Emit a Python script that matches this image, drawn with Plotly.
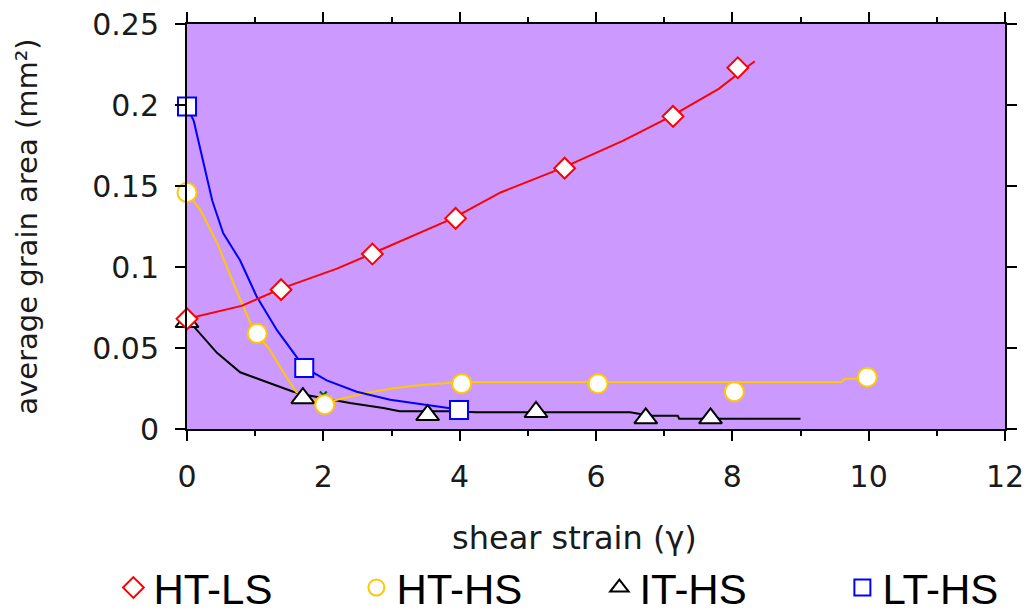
import plotly.graph_objects as go

# ---- measured grain areas (markers) ----
htls_x = [0, 1.38, 2.72, 3.94, 5.54, 7.13, 8.08]
htls_y = [0.068, 0.086, 0.108, 0.130, 0.161, 0.193, 0.223]

hths_x = [0, 1.03, 2.02, 4.03, 6.03, 8.03, 9.98]
hths_y = [0.146, 0.059, 0.015, 0.028, 0.028, 0.023, 0.032]

iths_x = [0, 1.70, 3.53, 5.12, 6.73, 7.68]
iths_y = [0.066, 0.019, 0.0086, 0.0105, 0.0066, 0.0066]

lths_x = [0, 1.72, 3.99]
lths_y = [0.199, 0.0377, 0.0117]

# small cross markers sitting under the other symbols
cross_x = [0, 2.0, 4.0]
cross_y = [0.068, 0.021, 0.012]

# ---- trend curves ----
htls_fit_x = [0, 0.8, 1.4, 2.2, 2.7, 3.4, 3.9, 4.6, 5.5, 6.4, 7.1, 7.8, 8.1, 8.2, 8.33]
htls_fit_y = [0.068, 0.076, 0.087, 0.099, 0.108, 0.121, 0.130, 0.146, 0.161, 0.178,
              0.193, 0.210, 0.220, 0.223, 0.227]

hths_fit_x = [0, 0.2, 0.45, 0.75, 1.0, 1.2, 1.4, 1.6, 1.8, 2.0, 2.2, 2.6, 3.0, 3.4,
              4.0, 6.0, 8.0, 9.6, 9.65, 10.0]
hths_fit_y = [0.146, 0.135, 0.114, 0.083, 0.059, 0.050, 0.036, 0.023, 0.018, 0.016,
              0.018, 0.022, 0.025, 0.027, 0.029, 0.029, 0.029, 0.029, 0.031, 0.031]

iths_fit_x = [0, 0.19, 0.44, 0.78, 1.17, 1.56, 1.75, 2.0, 2.39, 2.88, 3.12, 3.86,
              4.25, 6.5, 6.8, 7.2, 7.22, 9.0]
iths_fit_y = [0.068, 0.059, 0.047, 0.035, 0.029, 0.023, 0.021, 0.019, 0.016, 0.013,
              0.011, 0.011, 0.0103, 0.0103, 0.0082, 0.0082, 0.0064, 0.0064]

lths_fit_x = [0, 0.1, 0.37, 0.53, 0.78, 1.02, 1.32, 1.56, 1.72, 2.05, 2.49, 2.98, 3.61, 3.99]
lths_fit_y = [0.199, 0.19, 0.141, 0.121, 0.104, 0.082, 0.061, 0.047, 0.038, 0.030,
              0.023, 0.018, 0.014, 0.012]

x_ticks = [0, 2, 4, 6, 8, 10, 12]
x_tick_text = ["0", "2", "4", "6", "8", "10", "12"]
y_ticks = [0, 0.05, 0.1, 0.15, 0.2, 0.25]
y_tick_text = ["0", "0.05", "0.1", "0.15", "0.2", "0.25"]

RED = "#ff0000"
YELLOW = "#ffc800"
BLUE = "#0000ff"
BLACK = "#000000"
TICK_FONT = "DejaVu Sans, Verdana, sans-serif"

fig = go.Figure()

# curves first so the symbols sit on top
for fx, fy, col in [(iths_fit_x, iths_fit_y, BLACK),
                    (hths_fit_x, hths_fit_y, YELLOW),
                    (lths_fit_x, lths_fit_y, BLUE),
                    (htls_fit_x, htls_fit_y, RED)]:
    fig.add_trace(go.Scatter(x=fx, y=fy, mode="lines", showlegend=False,
                             hoverinfo="skip", cliponaxis=False,
                             line=dict(color=col, width=2)))

fig.add_trace(go.Scatter(x=iths_x, y=iths_y, mode="markers", name="IT-HS",
                         cliponaxis=False,
                         marker=dict(symbol="triangle-up", size=20, color="white",
                                     line=dict(color=BLACK, width=2))))
fig.add_trace(go.Scatter(x=cross_x, y=cross_y, mode="markers", showlegend=False,
                         cliponaxis=False,
                         marker=dict(symbol="x-thin", size=7,
                                     line=dict(color="#006400", width=2))))
fig.add_trace(go.Scatter(x=hths_x, y=hths_y, mode="markers", name="HT-HS",
                         cliponaxis=False,
                         marker=dict(symbol="circle", size=19, color="white",
                                     line=dict(color=YELLOW, width=2))))
fig.add_trace(go.Scatter(x=lths_x, y=lths_y, mode="markers", name="LT-HS",
                         cliponaxis=False,
                         marker=dict(symbol="square", size=18, color="white",
                                     line=dict(color=BLUE, width=2))))
fig.add_trace(go.Scatter(x=htls_x, y=htls_y, mode="markers", name="HT-LS",
                         cliponaxis=False,
                         marker=dict(symbol="diamond", size=16, color="white",
                                     line=dict(color=RED, width=2))))

axis_common = dict(showline=True, linecolor=BLACK, linewidth=2, mirror="ticks",
                   ticks="outside", tickcolor=BLACK, tickwidth=2, ticklen=10,
                   showgrid=False, zeroline=False,
                   tickfont=dict(family=TICK_FONT, size=30, color="#1a1a1a"))

fig.update_xaxes(range=[0, 12], tickvals=x_ticks, ticktext=x_tick_text,
                 minor=dict(dtick=1, tick0=0, ticks="outside", ticklen=5,
                            tickwidth=2, tickcolor=BLACK),
                 ticklabelstandoff=10,
                 **axis_common)
fig.update_yaxes(range=[0, 0.25], tickvals=y_ticks, ticktext=y_tick_text,
                 title=dict(text="average grain area (mm²)", standoff=46,
                            font=dict(family=TICK_FONT, size=29, color="#1a1a1a")),
                 ticklabelstandoff=10,
                 **axis_common)

# x-axis caption, set slightly left of the plot centre
fig.add_annotation(text="shear strain (γ)", xref="paper", yref="paper",
                   x=0.474, y=-0.268, xanchor="center", yanchor="middle",
                   showarrow=False,
                   font=dict(family=TICK_FONT, size=32, color="#1a1a1a"))

fig.update_layout(
    width=1026, height=614,
    margin=dict(l=187, r=21, t=24, b=185, autoexpand=False),
    paper_bgcolor="white",
    plot_bgcolor="#cc99ff",
    showlegend=True,
    legend=dict(orientation="h", x=-0.090, xanchor="left", y=-0.392, yanchor="middle",
                traceorder="normal", entrywidth=198, entrywidthmode="pixels",
                font=dict(family="Liberation Sans, Arial, sans-serif",
                          size=42, color=BLACK),
                bgcolor="rgba(0,0,0,0)"),
)

# legend order: HT-LS, HT-HS, IT-HS, LT-HS
order = {"HT-LS": 1, "HT-HS": 2, "IT-HS": 3, "LT-HS": 4}
for tr in fig.data:
    if tr.name in order:
        tr.legendrank = order[tr.name]

fig.write_html("out.html")
